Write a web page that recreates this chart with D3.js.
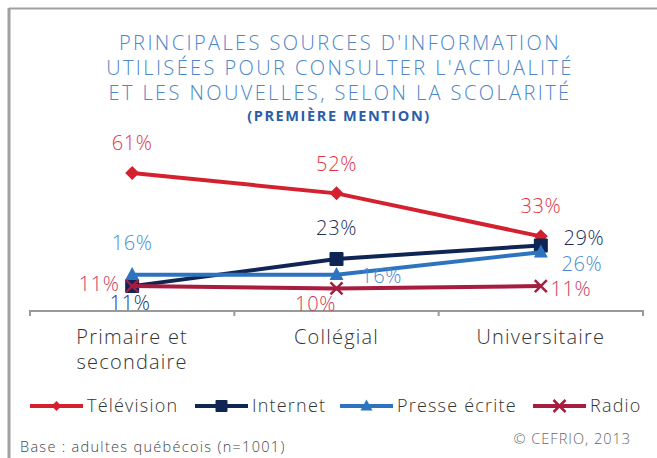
<!DOCTYPE html>
<html>
<head>
<meta charset="utf-8">
<script src="https://cdn.jsdelivr.net/npm/d3@7"></script>
<style>
  body { margin: 0; background: #fff; }
  text { font-family: "Open Sans", Lato, sans-serif; }
</style>
</head>
<body>
<div id="chart"></div>
<script>
// data
var categories = [["Primaire et", "secondaire"], ["Collégial"], ["Universitaire"]];
var seriesNames = ["Télévision", "Internet", "Presse écrite", "Radio"];
var television = [61, 52, 33];
var internet = [11, 23, 29];
var presse = [16, 16, 26];
var radio = [11, 10, 11];

var colors = ["#d4212f", "#0f2553", "#2d73bf", "#a61d40"];
var labelColors = ["#e03441", "#1b2f5e", "#4a8bd0", "#c23d5c"];
var symbols = ["diamond", "square", "triangle", "cross"];
// label offsets [dx, dy] per series per point
var labelPos = [
    [[0, -30], [0, -30], [0, -31]],
    [[-2, 17], [0, -31], [43, -8]],
    [[0, -32], [45, 1], [41, 12]],
    [[-33, -2], [-21, 15], [30, 3]]
];

var width = 657, height = 458;
var svg = d3.select("#chart").append("svg")
    .attr("width", width)
    .attr("height", height);

// frame
svg.append("line").attr("x1", 9).attr("x2", 9).attr("y1", 8).attr("y2", height)
    .attr("stroke", "#a0a0a0").attr("stroke-width", 3);
svg.append("line").attr("x1", 9).attr("x2", width).attr("y1", 8.5).attr("y2", 8.5)
    .attr("stroke", "#a0a0a0").attr("stroke-width", 2);

// title
var title = ["PRINCIPALES SOURCES D'INFORMATION", "UTILISÉES POUR CONSULTER L'ACTUALITÉ", "ET LES NOUVELLES, SELON LA SCOLARITÉ"];
svg.selectAll(".title").data(title).enter().append("text")
    .attr("x", 340).attr("y", function (d, i) { return 50 + i * 25; })
    .attr("text-anchor", "middle")
    .attr("font-size", 20).attr("font-weight", 300)
    .attr("letter-spacing", 2.4)
    .attr("fill", "#4a86c8")
    .text(function (d) { return d; });
svg.append("text").attr("x", 339).attr("y", 121)
    .attr("text-anchor", "middle").attr("font-size", 14.5).attr("font-weight", 700)
    .attr("letter-spacing", 1.6)
    .attr("fill", "#2a5ea8").text("(PREMIÈRE MENTION)");

// scales
var x = d3.scaleBand().domain(d3.range(3)).range([30, 643]);
var y = d3.scaleLinear().domain([0, 61]).range([311, 173]);

// axis
var axis = svg.append("g").attr("transform", "translate(0,311)")
    .call(d3.axisBottom(x).tickSize(0).tickFormat(""));
axis.select(".domain").attr("stroke", "#999").attr("stroke-width", 2).attr("d", "M30,0H643");
svg.selectAll(".tk").data([0, 1, 2, 3]).enter().append("line")
    .attr("x1", function (d) { return 30 + d * x.bandwidth(); })
    .attr("x2", function (d) { return 30 + d * x.bandwidth(); })
    .attr("y1", 310).attr("y2", 316)
    .attr("stroke", "#999").attr("stroke-width", 2);

svg.selectAll(".cat").data(categories).enter().append("text")
    .attr("text-anchor", "middle")
    .attr("font-size", 20).attr("font-weight", 300).attr("fill", "#333")
    .attr("letter-spacing", 1.2)
    .attr("transform", function (d, i) { return "translate(" + (x(i) + x.bandwidth() / 2) + ",344)"; })
    .selectAll("tspan").data(function (d) { return d; }).enter().append("tspan")
    .attr("x", 0).attr("dy", function (d, i) { return i ? 25 : 0; })
    .text(function (d) { return d; });

function marker(g, type, color, s) {
    if (type === "diamond") {
        g.append("path").attr("d", "M0," + (-s) + "L" + s + ",0L0," + s + "L" + (-s) + ",0Z").attr("fill", color);
    } else if (type === "square") {
        g.append("rect").attr("x", -s).attr("y", -s).attr("width", 2 * s).attr("height", 2 * s)
            .attr("rx", 1).attr("fill", color);
    } else if (type === "triangle") {
        g.append("path").attr("d", "M0," + (-s * 1.1) + "L" + s + "," + (s * 0.75) + "L" + (-s) + "," + (s * 0.75) + "Z").attr("fill", color);
    } else {
        g.append("path").attr("d", "M" + (-s) + "," + (-s) + "L" + s + "," + s + "M" + s + "," + (-s) + "L" + (-s) + "," + s)
            .attr("stroke", color).attr("stroke-width", 2.5).attr("fill", "none");
    }
}

var allSeries = [television, internet, presse, radio];
var line = d3.line()
    .x(function (d, i) { return x(i) + x.bandwidth() / 2; })
    .y(function (d) { return y(d); });

allSeries.forEach(function (vals, si) {
    svg.append("path").datum(vals).attr("d", line)
        .attr("fill", "none").attr("stroke", colors[si]).attr("stroke-width", 4);
    vals.forEach(function (v, i) {
        var g = svg.append("g").attr("transform", "translate(" + (x(i) + x.bandwidth() / 2) + "," + y(v) + ")");
        marker(g, symbols[si], colors[si], si === 2 ? 7 : si === 3 ? 6 : 7);
    });
});

allSeries.forEach(function (vals, si) {
    vals.forEach(function (v, i) {
        svg.append("text")
            .attr("x", x(i) + x.bandwidth() / 2 + labelPos[si][i][0])
            .attr("y", y(v) + labelPos[si][i][1])
            .attr("dy", "0.36em")
            .attr("text-anchor", "middle")
            .attr("font-size", 20).attr("font-weight", 300)
            .attr("letter-spacing", 0.6)
            .attr("fill", labelColors[si])
            .text(v + "%");
    });
});

// legend
var legendX = [30, 195, 340, 533];
seriesNames.forEach(function (name, si) {
    var g = svg.append("g").attr("transform", "translate(" + legendX[si] + ",406)");
    g.append("line").attr("x1", 0).attr("x2", 53).attr("stroke", colors[si]).attr("stroke-width", 4);
    var m = g.append("g").attr("transform", "translate(26.5,0)");
    marker(m, symbols[si], colors[si], si === 0 ? 5 : 6);
    g.append("text").attr("x", 57).attr("dy", "0.35em")
        .attr("font-size", 18).attr("font-weight", 300).attr("fill", "#333")
        .attr("letter-spacing", 1.2).text(name);
});

// footer
svg.append("text").attr("x", 20).attr("y", 452).attr("font-size", 14.5).attr("font-weight", 300)
    .attr("letter-spacing", 1.3).attr("fill", "#444").text("Base : adultes québécois (n=1001)");
svg.append("text").attr("x", 631).attr("y", 444).attr("text-anchor", "end")
    .attr("font-size", 14.5).attr("font-weight", 300).attr("letter-spacing", 1)
    .attr("fill", "#666").text("© CEFRIO, 2013");
</script>
</body>
</html>
